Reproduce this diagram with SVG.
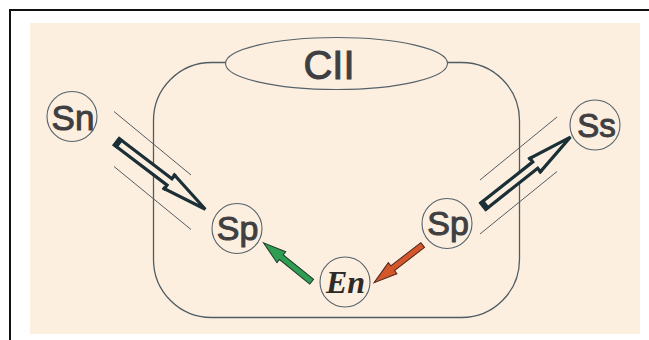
<svg xmlns="http://www.w3.org/2000/svg" width="649" height="340" viewBox="0 0 649 340">
  <defs>
    <style>
      .frame { fill: none; stroke: #111; stroke-width: 2; }
      .cell { fill: none; stroke: #4f5c62; stroke-width: 1.3; }
      .node-c { fill: #fdefe0; stroke: #56626a; stroke-width: 1.1; }
      .lbl { font-family: "Liberation Sans", Arial, sans-serif; fill: #3f3f42; stroke: #3f3f42; stroke-width: 1; text-anchor: middle; }
      .en { font-family: "Liberation Serif", "Times New Roman", serif; font-style: italic; font-weight: bold; fill: #2e2a28; text-anchor: middle; }
      .guide { stroke: #555c60; stroke-width: 1; fill: none; }
      .hollow { fill: #fdefe0; stroke: #1b2f36; stroke-width: 3.2; stroke-linejoin: miter; }
      .cap { fill: #1b2f36; }
      .green { fill: #2f9e52; stroke: #1e3b2a; stroke-width: 1; }
      .red { fill: #d4562b; stroke: #4a2418; stroke-width: 1; }
    </style>
    <g id="hollowArrow">
      <path class="hollow" d="M0,-4 L66,-4 L66,-8.5 L111,0 L66,8.5 L66,4 L0,4 Z"/>
      <rect class="cap" x="-2" y="-5.5" width="6" height="11"/>
      <rect class="cap" x="64" y="-10" width="4" height="3"/>
      <rect class="cap" x="64" y="7" width="4" height="3"/>
    </g>
  </defs>

  <rect x="0" y="0" width="649" height="340" fill="#ffffff"/>
  <path class="frame" d="M10,345 L10,10 L652,10"/>
  <rect x="30" y="23" width="610" height="311" fill="#fdefe0"/>

  <g id="cell">
    <rect class="cell" x="153.5" y="62.5" width="366" height="255" rx="58" ry="58"/>
  </g>

  <g id="CII">
    <ellipse class="node-c" cx="336.5" cy="63.5" rx="111" ry="26"/>
    <text class="lbl" x="329" y="79" font-size="40">CII</text>
  </g>

  <g id="connectors">
    <line class="guide" x1="114" y1="111.5" x2="191" y2="175"/>
    <line class="guide" x1="114" y1="166.5" x2="191" y2="229.5"/>
    <line class="guide" x1="480" y1="180" x2="557" y2="117"/>
    <line class="guide" x1="480" y1="234" x2="557" y2="171.5"/>
    <use href="#hollowArrow" transform="translate(117,142) rotate(37.3)"/>
    <use href="#hollowArrow" transform="translate(483.5,206) rotate(-38.4)"/>
    <path class="green" transform="translate(311.7,281.7) rotate(218.9)" d="M0,-3 L39,-3 L39,-7 L62,0 L39,7 L39,3 L0,3 Z"/>
    <path class="red" transform="translate(422.7,245) rotate(142.3)" d="M0,-3 L38,-3 L38,-7 L61.5,0 L38,7 L38,3 L0,3 Z"/>
  </g>

  <g id="Sn">
    <circle class="node-c" cx="72" cy="116.5" r="25"/>
    <text class="lbl" x="73" y="130" font-size="35">Sn</text>
  </g>
  <g id="Sp-left">
    <circle class="node-c" cx="237" cy="228.5" r="25"/>
    <text class="lbl" x="237.5" y="239.5" font-size="34">Sp</text>
  </g>
  <g id="Sp-right">
    <circle class="node-c" cx="447" cy="223.5" r="25"/>
    <text class="lbl" x="448" y="235" font-size="34">Sp</text>
  </g>
  <g id="Ss">
    <circle class="node-c" cx="595" cy="125" r="25"/>
    <text class="lbl" x="596.5" y="136.5" font-size="33">Ss</text>
  </g>
  <g id="En">
    <circle class="node-c" cx="345" cy="282" r="25"/>
    <text class="en" x="345.5" y="293" font-size="32">En</text>
  </g>
</svg>
